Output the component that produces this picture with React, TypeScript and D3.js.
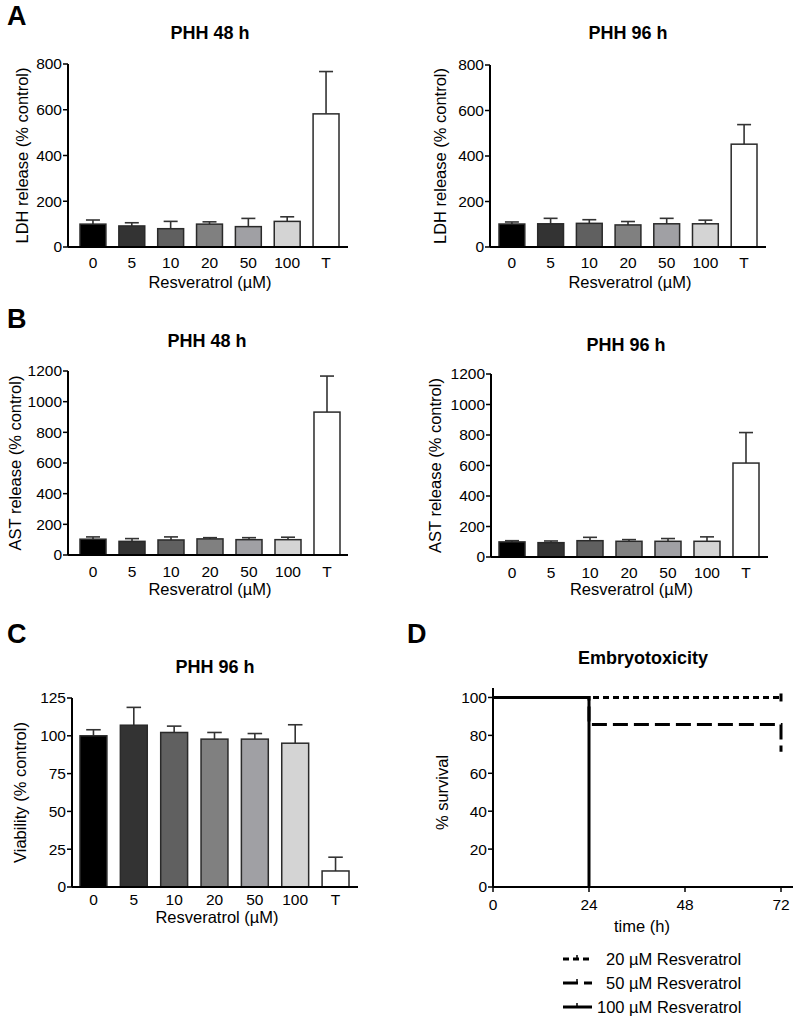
import React from "react";
import * as d3 from "d3";

const categories = ["0", "5", "10", "20", "50", "100", "T"];
const barColors = ["#000000", "#333333", "#606060", "#808080", "#a0a0a4", "#d4d4d4", "#ffffff"];

const ldh48Mean = [100, 92, 80, 100, 89, 112, 582];
const ldh48Err = [18, 14, 32, 10, 36, 20, 185];
const ldh96Mean = [101, 102, 104, 97, 102, 102, 452];
const ldh96Err = [9, 24, 16, 15, 24, 16, 86];
const ast48Mean = [103, 89, 98, 105, 100, 100, 932];
const ast48Err = [15, 18, 20, 8, 13, 16, 235];
const ast96Mean = [99, 94, 107, 103, 103, 103, 616];
const ast96Err = [8, 11, 22, 11, 18, 29, 200];
const viab96Mean = [100, 107, 102.2, 97.8, 97.8, 95.1, 10.6];
const viab96Err = [4, 11.8, 4.2, 4.4, 3.7, 12.2, 9.1];

const ldhTicks = [0, 200, 400, 600, 800];
const astTicks = [0, 200, 400, 600, 800, 1000, 1200];
const viabTicks = [0, 25, 50, 75, 100, 125];

const timeH = [0, 24, 72];
const surv20 = [100, 100, 100];
const surv50 = [100, 85.7, 71.4];
const time100 = [0, 24];
const surv100 = [100, 0];
const censor20 = [72];
const timeTicks = [0, 24, 48, 72];
const survTicks = [0, 20, 40, 60, 80, 100];
const legendLabels = ["20 µM Resveratrol", "50 µM Resveratrol", "100 µM Resveratrol"];

const FONT = "'Liberation Sans', Arial, Helvetica, sans-serif";
const TICK_FS = 15.5;
const LABEL_FS = 16.5;
const TITLE_FS = 18;

type BarProps = {
  letter?: string;
  letterY?: number;
  title: string;
  titleX: number;
  titleY: number;
  x0: number;
  xEnd: number;
  bandRange: [number, number];
  yTop: number;
  yBottom: number;
  ticks: number[];
  means: number[];
  errs: number[];
  ylabel: string;
  ylabelX: number;
  tickBase: number;
  xlabelBase: number;
};

function BarPanel(p: BarProps) {
  const x = d3.scaleBand<string>().domain(categories).range(p.bandRange).paddingInner(0.333).paddingOuter(0);
  const y = d3.scaleLinear().domain([0, p.ticks[p.ticks.length - 1]]).range([p.yBottom, p.yTop]);
  const bw = x.bandwidth();
  const cap = bw * 0.27;
  return (
    <g>
      {p.letter && (
        <text x={7} y={p.letterY} fontSize={27} fontWeight="bold" fontFamily={FONT}>{p.letter}</text>
      )}
      <text x={p.titleX} y={p.titleY} textAnchor="middle" fontSize={TITLE_FS} fontWeight="bold" fontFamily={FONT}>{p.title}</text>
      {categories.map((c, i) => {
        const cx = (x(c) as number) + bw / 2;
        const top = y(p.means[i]);
        const et = y(p.means[i] + p.errs[i]);
        return (
          <g key={c}>
            <line x1={cx} x2={cx} y1={top} y2={et} stroke="#333" strokeWidth={1.6} />
            <line x1={cx - cap} x2={cx + cap} y1={et} y2={et} stroke="#333" strokeWidth={1.6} />
            <rect x={x(c)} y={top} width={bw} height={p.yBottom - top} fill={barColors[i]} stroke="#2a2a2a" strokeWidth={1.5} />
            <text x={cx} y={p.tickBase} textAnchor="middle" fontSize={TICK_FS} fontFamily={FONT}>{c}</text>
          </g>
        );
      })}
      <line x1={p.x0} x2={p.x0} y1={p.yTop} y2={p.yBottom} stroke="#000" strokeWidth={2} />
      <line x1={p.x0} x2={p.xEnd} y1={p.yBottom} y2={p.yBottom} stroke="#000" strokeWidth={2} />
      {p.ticks.map((t) => (
        <g key={t}>
          <line x1={p.x0 - 5} x2={p.x0} y1={y(t)} y2={y(t)} stroke="#000" strokeWidth={1.5} />
          <text x={p.x0 - 6} y={y(t)} dy="0.35em" textAnchor="end" fontSize={TICK_FS} fontFamily={FONT}>{t}</text>
        </g>
      ))}
      <text transform={`translate(${p.ylabelX},${(p.yTop + p.yBottom) / 2}) rotate(-90)`} dy="0.35em" textAnchor="middle" fontSize={LABEL_FS} fontFamily={FONT}>{p.ylabel}</text>
      <text x={(p.x0 + p.xEnd) / 2 + 2} y={p.xlabelBase} textAnchor="middle" fontSize={LABEL_FS} fontFamily={FONT}>Resveratrol (µM)</text>
    </g>
  );
}

function SurvivalPanel() {
  const x = d3.scaleLinear().domain([0, 75]).range([493, 793]);
  const y = d3.scaleLinear().domain([0, 105]).range([887, 688]);
  const step = d3.line<[number, number]>().x((d) => x(d[0])).y((d) => y(d[1])).curve(d3.curveStepAfter);
  const p20 = step(timeH.map((t, i) => [t, surv20[i]] as [number, number])) || "";
  const p50 = step(timeH.map((t, i) => [t, surv50[i]] as [number, number])) || "";
  const p100 = step(time100.map((t, i) => [t, surv100[i]] as [number, number])) || "";
  const dashes = ["6,4", "15,6", "none"];
  const legendY = [959, 983, 1007];
  const legendTextX = [606, 606, 597];
  return (
    <g fontFamily={FONT}>
      <text x={407} y={643} fontSize={27} fontWeight="bold">D</text>
      <text x={643} y={664} textAnchor="middle" fontSize={TITLE_FS} fontWeight="bold">Embryotoxicity</text>
      <path d={p20} fill="none" stroke="#000" strokeWidth={3} strokeDasharray={dashes[0]} />
      {censor20.map((t) => (
        <line key={t} x1={x(t)} x2={x(t)} y1={y(100) - 4} y2={y(100) + 4} stroke="#000" strokeWidth={3} />
      ))}
      <path d={p50} fill="none" stroke="#000" strokeWidth={3} strokeDasharray={dashes[1]} />
      <path d={p100} fill="none" stroke="#000" strokeWidth={3} />
      <line x1={493} x2={493} y1={688} y2={887} stroke="#000" strokeWidth={2} />
      <line x1={493} x2={793} y1={887} y2={887} stroke="#000" strokeWidth={2} />
      {survTicks.map((t) => (
        <g key={t}>
          <line x1={488} x2={493} y1={y(t)} y2={y(t)} stroke="#000" strokeWidth={1.5} />
          <text x={487} y={y(t)} dy="0.35em" textAnchor="end" fontSize={TICK_FS}>{t}</text>
        </g>
      ))}
      {timeTicks.map((t) => (
        <g key={t}>
          <line x1={x(t)} x2={x(t)} y1={887} y2={892} stroke="#000" strokeWidth={1.5} />
          <text x={x(t)} y={910} textAnchor="middle" fontSize={TICK_FS}>{t}</text>
        </g>
      ))}
      <text x={642} y={932} textAnchor="middle" fontSize={LABEL_FS}>time (h)</text>
      <text transform={`translate(442,${(698 + 887) / 2}) rotate(-90)`} dy="0.35em" textAnchor="middle" fontSize={LABEL_FS}>% survival</text>
      {legendLabels.map((lab, i) => (
        <g key={lab}>
          <line x1={563} x2={592} y1={legendY[i]} y2={legendY[i]} stroke="#000" strokeWidth={3} strokeDasharray={dashes[i]} />
          <line x1={577} x2={577} y1={legendY[i] - 4} y2={legendY[i]} stroke="#000" strokeWidth={1.5} />
          <text x={legendTextX[i]} y={legendY[i]} dy="0.35em" fontSize={LABEL_FS}>{lab}</text>
        </g>
      ))}
    </g>
  );
}

export default function App() {
  return (
    <svg width={797} height={1021} style={{ position: "absolute", left: 0, top: 0, background: "#fff" }}>
      <rect width={797} height={1021} fill="#fff" />
      <BarPanel letter="A" letterY={25} title="PHH 48 h" titleX={210} titleY={39} x0={68} xEnd={348} bandRange={[80, 339]} yTop={64} yBottom={247}
        ticks={ldhTicks} means={ldh48Mean} errs={ldh48Err} ylabel="LDH release (% control)" ylabelX={22} tickBase={268} xlabelBase={288} />
      <BarPanel title="PHH 96 h" titleX={628} titleY={39} x0={490} xEnd={766} bandRange={[499, 757]} yTop={65} yBottom={247}
        ticks={ldhTicks} means={ldh96Mean} errs={ldh96Err} ylabel="LDH release (% control)" ylabelX={440} tickBase={268} xlabelBase={288} />
      <BarPanel letter="B" letterY={328} title="PHH 48 h" titleX={207} titleY={347} x0={68} xEnd={348} bandRange={[80, 340]} yTop={371} yBottom={555}
        ticks={astTicks} means={ast48Mean} errs={ast48Err} ylabel="AST release (% control)" ylabelX={15} tickBase={577} xlabelBase={595} />
      <BarPanel title="PHH 96 h" titleX={626} titleY={351} x0={491} xEnd={768} bandRange={[499, 759]} yTop={374} yBottom={557}
        ticks={astTicks} means={ast96Mean} errs={ast96Err} ylabel="AST release (% control)" ylabelX={435} tickBase={578} xlabelBase={595} />
      <BarPanel letter="C" letterY={643} title="PHH 96 h" titleX={215} titleY={673} x0={72} xEnd={358} bandRange={[80, 349]} yTop={698} yBottom={887}
        ticks={viabTicks} means={viab96Mean} errs={viab96Err} ylabel="Viability (% control)" ylabelX={20} tickBase={905} xlabelBase={923} />
      <SurvivalPanel />
    </svg>
  );
}
